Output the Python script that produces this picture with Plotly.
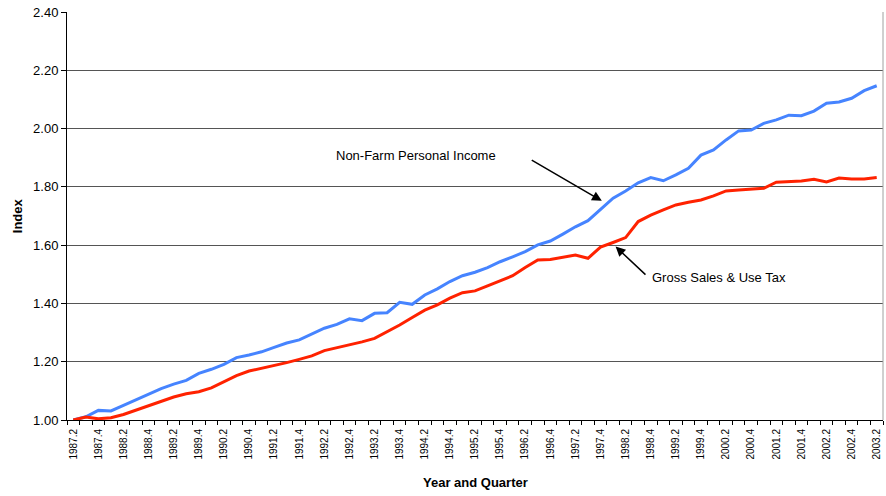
import plotly.graph_objects as go

quarters = [f"{y}.{q}" for y in range(1987, 2004) for q in range(1, 5)]
quarters = quarters[quarters.index("1987.2"):quarters.index("2003.2") + 1]

non_farm_income = [
    1.000, 1.011, 1.033, 1.031, 1.050, 1.070, 1.090, 1.108, 1.123, 1.136,
    1.160, 1.174, 1.191, 1.214, 1.223, 1.234, 1.249, 1.264, 1.275, 1.295,
    1.315, 1.328, 1.347, 1.341, 1.366, 1.368, 1.404, 1.397, 1.429, 1.450,
    1.475, 1.495, 1.507, 1.523, 1.543, 1.560, 1.578, 1.601, 1.614, 1.638,
    1.663, 1.684, 1.721, 1.761, 1.786, 1.814, 1.832, 1.821, 1.841, 1.864,
    1.909, 1.927, 1.961, 1.992, 1.995, 2.018, 2.030, 2.046, 2.044, 2.060,
    2.087, 2.091, 2.104, 2.130, 2.147,
]

gross_sales_tax = [
    1.000, 1.010, 1.004, 1.008, 1.019, 1.034, 1.050, 1.066, 1.079, 1.090,
    1.097, 1.110, 1.130, 1.152, 1.168, 1.177, 1.186, 1.197, 1.208, 1.220,
    1.238, 1.248, 1.257, 1.268, 1.280, 1.303, 1.326, 1.352, 1.377, 1.395,
    1.418, 1.437, 1.443, 1.460, 1.477, 1.495, 1.523, 1.549, 1.551, 1.559,
    1.566, 1.555, 1.593, 1.609, 1.626, 1.681, 1.703, 1.721, 1.738, 1.747,
    1.755, 1.769, 1.786, 1.789, 1.793, 1.795, 1.816, 1.818, 1.820, 1.826,
    1.817, 1.830, 1.827, 1.827, 1.832,
]

y_ticks = [1.00, 1.20, 1.40, 1.60, 1.80, 2.00, 2.20, 2.40]
tick_labels = quarters[::2]

xi = list(range(len(quarters)))
FONT = "Arial, Liberation Sans, sans-serif"

fig = go.Figure()
fig.add_trace(go.Scatter(x=xi, y=non_farm_income, mode="lines", name="Non-Farm Personal Income",
                         line=dict(color="#4684FF", width=3), text=quarters))
fig.add_trace(go.Scatter(x=xi, y=gross_sales_tax, mode="lines", name="Gross Sales & Use Tax",
                         line=dict(color="#FF2200", width=3), text=quarters))

fig.update_layout(
    width=886, height=496,
    margin=dict(l=67, r=3, t=12, b=76),
    paper_bgcolor="white", plot_bgcolor="white",
    showlegend=False,
    font=dict(family=FONT, color="black"),
)

fig.update_xaxes(
    automargin=False,
    range=[-0.5, len(quarters) - 0.5],
    tickvals=xi[::2], ticktext=tick_labels,
    tickangle=-90, tickfont=dict(size=10, family=FONT),
    ticks="outside", ticklen=4, tickcolor="rgba(0,0,0,0)",
    minor=dict(tick0=-0.5, dtick=1, ticks="outside", ticklen=4, tickcolor="black", showgrid=False),
    showgrid=False, zeroline=False,
    showline=True, linecolor="black", linewidth=1,
)
fig.update_yaxes(
    automargin=False,
    range=[1.0, 2.4],
    tickvals=y_ticks, ticktext=[f"{v:.2f}" for v in y_ticks],
    tickfont=dict(size=13, family=FONT),
    ticks="outside", ticklen=5, tickcolor="black",
    showgrid=True, gridcolor="#555555", gridwidth=1,
    zeroline=False,
    showline=True, linecolor="black", linewidth=1,
)

# right border of plot area
fig.add_shape(type="line", xref="paper", yref="paper", x0=1, x1=1, y0=0, y1=1,
              line=dict(color="#A0A0A0", width=1))

# axis titles
fig.add_annotation(text="<b>Index</b>", xref="paper", yref="paper", x=-0.061, y=0.5,
                   xanchor="center", yanchor="middle",
                   textangle=-90, showarrow=False, font=dict(size=13, family=FONT))
fig.add_annotation(text="<b>Year and Quarter</b>", xref="paper", yref="paper", x=0.5, y=-0.154,
                   xanchor="center", yanchor="middle",
                   showarrow=False, font=dict(size=13, family=FONT))

# series labels with arrows
fig.add_annotation(text="Non-Farm Personal Income", x=20.8, y=1.909, xanchor="left",
                   showarrow=False, font=dict(size=13, family=FONT))
fig.add_annotation(x=42.1, y=1.752, ax=36.4, ay=1.895, axref="x", ayref="y", text="",
                   showarrow=True, arrowhead=2, arrowsize=1.3, arrowwidth=1.5, arrowcolor="black")
fig.add_annotation(text="Gross Sales & Use Tax", x=45.9, y=1.49, xanchor="left",
                   showarrow=False, font=dict(size=13, family=FONT))
fig.add_annotation(x=43.2, y=1.595, ax=45.7, ay=1.494, axref="x", ayref="y", text="",
                   showarrow=True, arrowhead=2, arrowsize=1.3, arrowwidth=1.5, arrowcolor="black")

fig.write_html("out.html", config={"displayModeBar": False},
               post_script="document.body.style.margin='0';")
